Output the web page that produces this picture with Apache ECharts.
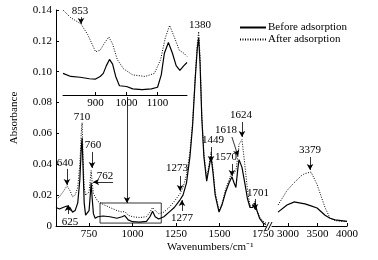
<!DOCTYPE html>
<html>
<head>
<meta charset="utf-8">
<script src="https://cdn.jsdelivr.net/npm/echarts@6/dist/echarts.min.js"></script>
<style>
  html, body { margin: 0; padding: 0; background: #fff; }
  #chart { width: 378px; height: 260px; }
</style>
</head>
<body>
<div id="chart"></div>
<script>
// IR spectra before / after adsorption

// main segment 560-1767 cm-1
const wnMain = [560, 580, 600, 623, 640, 655, 670, 685, 697, 705, 710, 715, 722, 730, 740, 750, 757, 762, 768, 775, 785,
  800, 830, 870, 910, 940, 955, 975, 1000, 1040, 1080, 1100, 1115, 1130, 1150, 1180, 1210, 1240, 1273, 1290, 1310,
  1330, 1345, 1360, 1372, 1380, 1388, 1398, 1410, 1426, 1440, 1451, 1462, 1475, 1497, 1515, 1535, 1555, 1571, 1583,
  1594, 1606, 1612, 1629, 1645, 1660, 1675, 1690, 1704, 1715, 1730, 1750, 1767];
const beforeMain = [0.012, 0.011, 0.012, 0.013, 0.012, 0.009, 0.010, 0.015, 0.030, 0.050, 0.057, 0.040, 0.015, 0.007, 0.006, 0.010, 0.020, 0.028, 0.018, 0.008, 0.005,
  0.006, 0.0065, 0.006, 0.005, 0.006, 0.0068, 0.004, 0.0028, 0.0025, 0.003, 0.006, 0.0095, 0.006, 0.0045, 0.006, 0.009, 0.012, 0.017, 0.020, 0.028,
  0.045, 0.065, 0.095, 0.115, 0.122, 0.105, 0.070, 0.045, 0.029, 0.038, 0.045, 0.035, 0.020, 0.009, 0.014, 0.022, 0.028, 0.032, 0.028,
  0.025, 0.038, 0.043, 0.038, 0.028, 0.018, 0.012, 0.012, 0.015, 0.010, 0.005, 0.002, 0.001];
const afterMain = [0.017, 0.019, 0.022, 0.026, 0.023, 0.019, 0.020, 0.025, 0.040, 0.060, 0.067, 0.045, 0.025, 0.020, 0.019, 0.022, 0.030, 0.036, 0.028, 0.021, 0.019,
  0.016, 0.014, 0.012, 0.010, 0.009, 0.0095, 0.007, 0.006, 0.0055, 0.006, 0.009, 0.012, 0.010, 0.008, 0.009, 0.012, 0.016, 0.021, 0.025, 0.033,
  0.048, 0.067, 0.097, 0.118, 0.126, 0.110, 0.072, 0.047, 0.031, 0.040, 0.048, 0.037, 0.022, 0.010, 0.015, 0.024, 0.030, 0.035, 0.034,
  0.036, 0.046, 0.053, 0.056, 0.040, 0.024, 0.013, 0.013, 0.016, 0.010, 0.006, 0.003, 0.002];

// high wavenumber segment
const wnHigh = [2832, 2984, 3069, 3103, 3239, 3289, 3391, 3493, 3510, 3628, 3713, 3800, 3900, 4000];
const beforeHigh = [0.009, 0.0136, 0.015, 0.0156, 0.0147, 0.0143, 0.013, 0.0117, 0.011, 0.007, 0.005, 0.004, 0.0035, 0.003];
const afterHigh = [0.0136, 0.023, 0.0266, 0.028, 0.033, 0.034, 0.035, 0.027, 0.025, 0.012, 0.005, 0.0035, 0.003, 0.003];

// inset (magnified 800-1190 region)
const wnInsetAfter = [795, 820, 853, 875, 900, 915, 930, 943, 955, 970, 990, 1020, 1060, 1090, 1110, 1125, 1139, 1155, 1170, 1185, 1195];
const afterInset = [0.140, 0.135, 0.131, 0.124, 0.113, 0.114, 0.119, 0.1225, 0.118, 0.108, 0.102, 0.098, 0.097, 0.099, 0.108, 0.122, 0.130, 0.122, 0.114, 0.112, 0.110];
const wnInsetBefore = [795, 820, 850, 880, 900, 915, 925, 935, 945, 955, 965, 977, 1000, 1020, 1050, 1080, 1100, 1112, 1122, 1135, 1148, 1160, 1172, 1185, 1195];
const beforeInset = [0.099, 0.097, 0.0965, 0.0955, 0.0953, 0.097, 0.099, 0.104, 0.108, 0.105, 0.097, 0.091, 0.0905, 0.089, 0.0885, 0.089, 0.090, 0.098, 0.112, 0.119, 0.112, 0.104, 0.101, 0.104, 0.106];

// tick labels
const yTicks = [0, 0.02, 0.04, 0.06, 0.08, 0.10, 0.12, 0.14];
const xTicksMain = [750, 1000, 1250, 1500, 1750];
const xTicksHigh = [3000, 3500, 4000];
const xTicksInset = [900, 1000, 1100];

// peak labels [text, x, y] and arrows [x1, y1, x2, y2]
const labelsMain = [['640', 612, 0.0408], ['625', 640, 0.0028], ['710', 709, 0.0706], ['760', 773, 0.0525], ['762', 842, 0.0324],
  ['1273', 1255, 0.0376], ['1277', 1284, 0.0052], ['1380', 1388, 0.1303], ['1449', 1462, 0.0557], ['1570', 1537, 0.0447],
  ['1618', 1537, 0.0622], ['1624', 1623, 0.0719], ['1701', 1721, 0.0214]];
const arrowsMain = [[623, 0.037, 623, 0.0266], [629, 0.0078, 629, 0.0136], [767, 0.048, 767, 0.0376], [888, 0.0285, 773, 0.0285],
  [968, 0.0836, 968, 0.0149], [1273, 0.0324, 1273, 0.0227], [1284, 0.0097, 1284, 0.0168], [1451, 0.0512, 1451, 0.0415],
  [1571, 0.0402, 1571, 0.0324], [1571, 0.0577, 1606, 0.0454], [1629, 0.0674, 1629, 0.0577], [1704, 0.0175, 1704, 0.0104]];
const boxMain = [813, 0.0019, 1165, 0.0149];
const labelsHigh = [['3379', 3374, 0.0492]];
const arrowsHigh = [[3374, 0.0447, 3374, 0.0363]];
const labelsInset = [['853', 850, 0.1393]];
const arrowsInset = [[853, 0.1354, 853, 0.131]];

const FONT = 'Liberation Serif';
const pair = (xs, ys) => xs.map((x, i) => [x, ys[i]]);

const solidStyle = { color: '#000', width: 1.2, type: 'solid' };
const dotStyle = { color: '#000', width: 1, type: [1, 1.5] };

function markLines(arrows) {
  return {
    silent: true,
    symbol: ['none', 'arrow'],
    symbolSize: [5, 6],
    label: { show: false },
    lineStyle: { color: '#000', width: 0.8, type: 'solid' },
    data: arrows.map(a => [{ coord: [a[0], a[1]] }, { coord: [a[2], a[3]] }])
  };
}

function markPoints(labels) {
  return {
    silent: true,
    symbol: 'circle',
    symbolSize: 1,
    itemStyle: { color: 'rgba(0,0,0,0)' },
    label: { show: true, position: 'inside', color: '#000', fontFamily: FONT, fontSize: 11, formatter: p => p.name },
    data: labels.map(l => ({ name: l[0], coord: [l[1], l[2]] }))
  };
}

function xAxisBase(idx, min, max, ticks) {
  return {
    type: 'value', gridIndex: idx, min: min, max: max,
    axisLine: { show: true, lineStyle: { color: '#000', width: 1 } },
    axisTick: { show: true, inside: true, length: 3, customValues: ticks, lineStyle: { color: '#000' } },
    axisLabel: { show: true, customValues: ticks, color: '#000', fontFamily: FONT, fontSize: 11, margin: 3,
      formatter: v => String(v) },
    splitLine: { show: false }
  };
}

const chart = echarts.init(document.getElementById('chart'), null, { renderer: 'canvas' });

const option = {
  animation: false,
  backgroundColor: '#fff',
  grid: [
    { left: 56, top: 10, width: 210, height: 216 },
    { left: 272, top: 10, width: 75, height: 216 },
    { left: 63, top: 10, width: 124, height: 85 }
  ],
  legend: {
    orient: 'vertical', left: 234, top: 17, itemWidth: 26, itemHeight: 8, itemGap: 1,
    itemStyle: { opacity: 0 },
    textStyle: { color: '#000', fontFamily: FONT, fontSize: 11, padding: [0, 0, 0, -3] },
    data: ['Before adsorption', 'After adsorption']
  },
  xAxis: [
    xAxisBase(0, 560, 1767, xTicksMain),
    xAxisBase(1, 2730, 4000, xTicksHigh),
    xAxisBase(2, 795, 1195, xTicksInset)
  ],
  yAxis: [
    {
      type: 'value', gridIndex: 0, min: 0, max: 0.14, interval: 0.02,
      name: 'Absorbance', nameLocation: 'middle', nameGap: 36,
      nameTextStyle: { color: '#000', fontFamily: FONT, fontSize: 11 },
      axisLine: { show: true, lineStyle: { color: '#000', width: 1 } },
      axisTick: { show: true, inside: true, length: 3, customValues: yTicks, lineStyle: { color: '#000' } },
      axisLabel: { color: '#000', fontFamily: FONT, fontSize: 11, margin: 4, customValues: yTicks,
        formatter: v => v === 0 ? '0' : v.toFixed(2) },
      splitLine: { show: false }
    },
    { type: 'value', gridIndex: 1, min: 0, max: 0.14, show: false },
    { type: 'value', gridIndex: 2, min: 0.085, max: 0.14, show: false }
  ],
  series: [
    {
      name: 'Before adsorption', type: 'line', xAxisIndex: 0, yAxisIndex: 0, symbol: 'none',
      lineStyle: solidStyle, itemStyle: { color: '#000' }, data: pair(wnMain, beforeMain),
      markLine: markLines(arrowsMain),
      markPoint: markPoints(labelsMain),
      markArea: {
        silent: true,
        itemStyle: { color: 'rgba(0,0,0,0)', borderColor: '#000', borderWidth: 0.8 },
        data: [[{ coord: [boxMain[0], boxMain[1]] }, { coord: [boxMain[2], boxMain[3]] }]]
      }
    },
    {
      name: 'After adsorption', type: 'line', xAxisIndex: 0, yAxisIndex: 0, symbol: 'none',
      lineStyle: dotStyle, itemStyle: { color: '#000' }, data: pair(wnMain, afterMain)
    },
    {
      name: 'Before adsorption', type: 'line', xAxisIndex: 1, yAxisIndex: 1, symbol: 'none',
      lineStyle: solidStyle, itemStyle: { color: '#000' }, data: pair(wnHigh, beforeHigh)
    },
    {
      name: 'After adsorption', type: 'line', xAxisIndex: 1, yAxisIndex: 1, symbol: 'none',
      lineStyle: dotStyle, itemStyle: { color: '#000' }, data: pair(wnHigh, afterHigh),
      markLine: markLines(arrowsHigh),
      markPoint: markPoints(labelsHigh)
    },
    {
      name: 'Before adsorption', type: 'line', xAxisIndex: 2, yAxisIndex: 2, symbol: 'none',
      lineStyle: solidStyle, itemStyle: { color: '#000' }, data: pair(wnInsetBefore, beforeInset)
    },
    {
      name: 'After adsorption', type: 'line', xAxisIndex: 2, yAxisIndex: 2, symbol: 'none',
      lineStyle: dotStyle, itemStyle: { color: '#000' }, data: pair(wnInsetAfter, afterInset),
      markLine: markLines(arrowsInset),
      markPoint: markPoints(labelsInset)
    }
  ],
  graphic: [
    // axis break marks
    { type: 'line', shape: { x1: 265, y1: 230, x2: 269, y2: 222 }, style: { stroke: '#000', lineWidth: 1 } },
    { type: 'line', shape: { x1: 268, y1: 230, x2: 272, y2: 222 }, style: { stroke: '#000', lineWidth: 1 } },
    // x axis title spans both segments
    { type: 'text', left: 167, top: 242,
      style: { text: 'Wavenumbers/cm⁻¹', fill: '#000', font: '11px "Liberation Serif"' } }
  ]
};

chart.setOption(option);
</script>
</body>
</html>
